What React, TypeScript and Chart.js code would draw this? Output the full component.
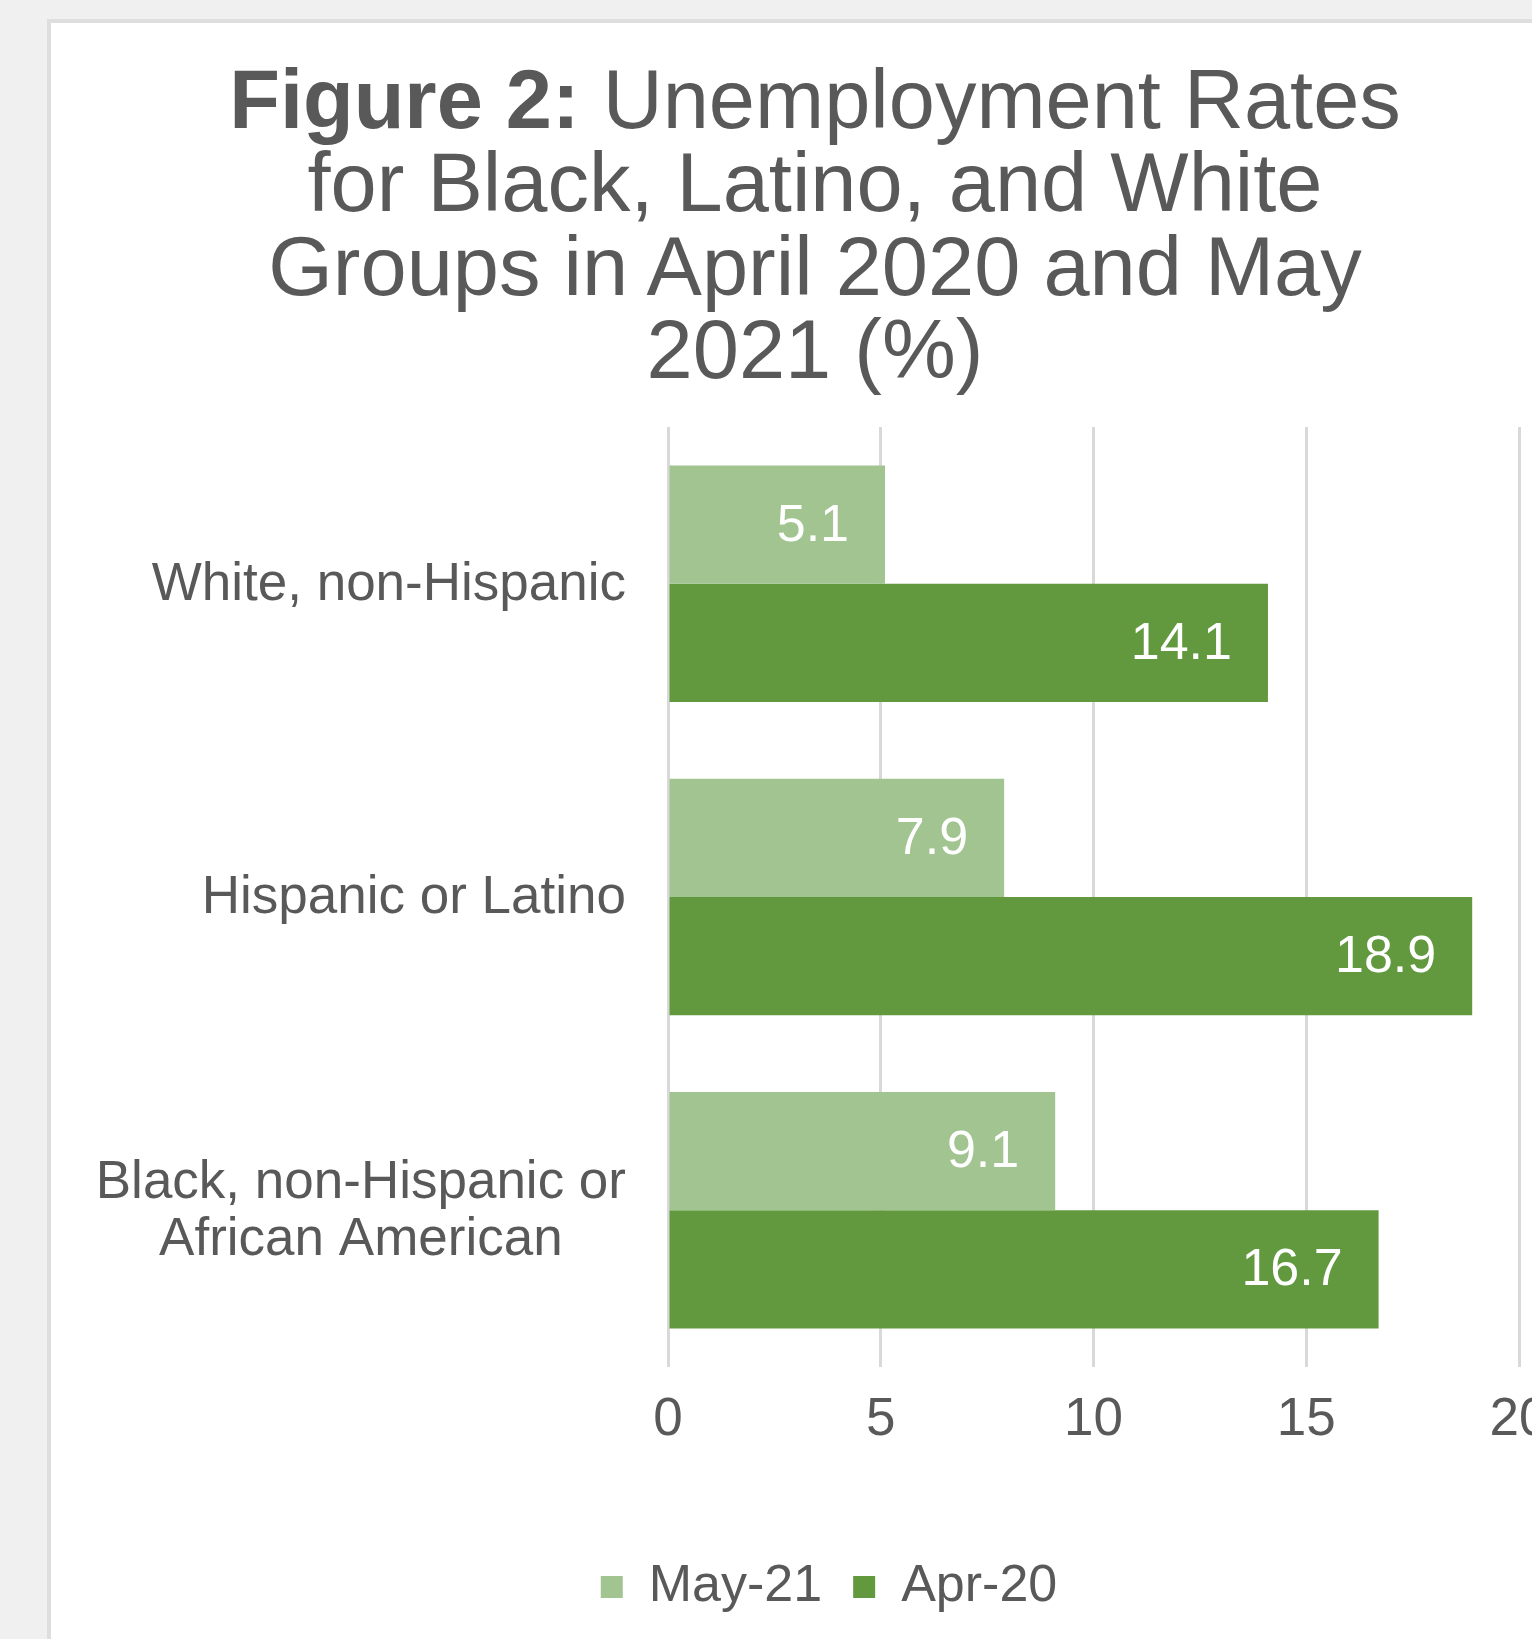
import React, { useEffect, useRef } from "react";
import { Chart, registerables } from "chart.js";

Chart.register(...registerables);

const FONT = '"Liberation Sans", Arial, Helvetica, sans-serif';
const TEXT_COLOR = "#595959";

const categories: string[][] = [
  ["White, non-Hispanic"],
  ["Hispanic or Latino"],
  ["Black, non-Hispanic or", "African American"],
];
const seriesNames = ["May-21", "Apr-20"];
const may21Values = [5.1, 7.9, 9.1];
const apr20Values = [14.1, 18.9, 16.7];
const seriesColors = ["#a1c490", "#62993e"];
const xTicks = [0, 5, 10, 15, 20];

const titleLines = ["Unemployment Rates", "for Black, Latino, and White", "Groups in April 2020 and May", "2021 (%)"];

const categoryLabelPlugin = {
  id: "categoryLabels",
  afterDraw(chart: any) {
    const ctx = chart.ctx;
    const yScale = chart.scales.y;
    const left = chart.chartArea.left;
    ctx.save();
    ctx.font = `53px ${FONT}`;
    ctx.fillStyle = TEXT_COLOR;
    ctx.textBaseline = "alphabetic";
    ctx.textAlign = "center";
    const lineGap = 57;
    categories.forEach((lines, i) => {
      const cy = yScale.getPixelForValue(i);
      const widths = lines.map((l) => ctx.measureText(l).width);
      const blockW = Math.max(...widths);
      const right = left - 42;
      const cx = right - blockW / 2;
      const n = lines.length;
      lines.forEach((line, j) => {
        const offset = (j - (n - 1) / 2) * lineGap;
        ctx.fillText(line, cx, cy + offset + 16);
      });
    });
    ctx.restore();
  },
};

const dataLabelPlugin = {
  id: "dataLabels",
  afterDatasetsDraw(chart: any) {
    const ctx = chart.ctx;
    ctx.save();
    ctx.font = `52px ${FONT}`;
    ctx.fillStyle = "#ffffff";
    ctx.textAlign = "right";
    ctx.textBaseline = "alphabetic";
    chart.data.datasets.forEach((ds: any, di: number) => {
      const meta = chart.getDatasetMeta(di);
      meta.data.forEach((el: any, i: number) => {
        const v = ds.data[i];
        ctx.fillText(String(v.toFixed(1)), el.x - 36, el.y + 16);
      });
    });
    ctx.restore();
  },
};

export default function App() {
  const canvasRef = useRef<HTMLCanvasElement | null>(null);

  useEffect(() => {
    if (!canvasRef.current) return;
    Chart.defaults.font.family = FONT;
    const chart = new Chart(canvasRef.current, {
      type: "bar",
      data: {
        labels: categories.map((c) => c.join(" ")),
        datasets: [
          {
            label: seriesNames[0],
            data: may21Values,
            backgroundColor: seriesColors[0],
            borderWidth: 0,
          },
          {
            label: seriesNames[1],
            data: apr20Values,
            backgroundColor: seriesColors[1],
            borderWidth: 0,
          },
        ],
      },
      options: {
        indexAxis: "y",
        animation: false,
        responsive: false,
        devicePixelRatio: 1,
        barPercentage: 1,
        categoryPercentage: 0.755,
        layout: { padding: { left: 28, right: 0, top: 47, bottom: 15 } },
        scales: {
          x: {
            min: xTicks[0],
            max: xTicks[xTicks.length - 1],
            afterBuildTicks: (scale: any) => {
              scale.ticks = xTicks.map((v) => ({ value: v }));
            },
            afterFit: (scale: any) => {
              scale.height = 163;
              scale.paddingLeft = 617;
              scale.paddingRight = 60;
            },
            ticks: {
              font: { size: 53 },
              color: TEXT_COLOR,
              padding: 22,
              maxRotation: 0,
            },
            grid: { color: "#d9d9d9", lineWidth: 3, drawTicks: false },
            border: { display: false },
          },
          y: { display: false },
        },
        plugins: {
          legend: {
            position: "bottom",
            labels: {
              boxWidth: 22,
              boxHeight: 22,
              font: { size: 52 },
              color: TEXT_COLOR,
              padding: 31,
            },
          },
          tooltip: { enabled: false },
          title: { display: false },
        },
      } as any,
      plugins: [categoryLabelPlugin, dataLabelPlugin],
    });
    return () => chart.destroy();
  }, []);

  return (
    <div
      style={{
        position: "fixed",
        inset: 0,
        overflow: "hidden",
        background: "#f0f0f0",
        fontFamily: FONT,
      }}
    >
      <div
        style={{
          position: "absolute",
          left: 47,
          top: 19,
          width: 1620,
          height: 1720,
          background: "#ffffff",
          border: "4px solid #dedede",
          boxSizing: "border-box",
        }}
      />
      <div
        style={{
          position: "absolute",
          left: 0,
          top: 58,
          width: 1630,
          textAlign: "center",
          fontSize: 83,
          lineHeight: "83.4px",
          color: TEXT_COLOR,
          whiteSpace: "nowrap",
        }}
      >
        <b>Figure 2:</b> {titleLines[0]}
        <br />
        {titleLines[1]}
        <br />
        {titleLines[2]}
        <br />
        {titleLines[3]}
      </div>
      <canvas
        ref={canvasRef}
        width={1528}
        height={1258}
        style={{ position: "absolute", left: 51, top: 380, width: 1528, height: 1258 }}
      />
    </div>
  );
}
